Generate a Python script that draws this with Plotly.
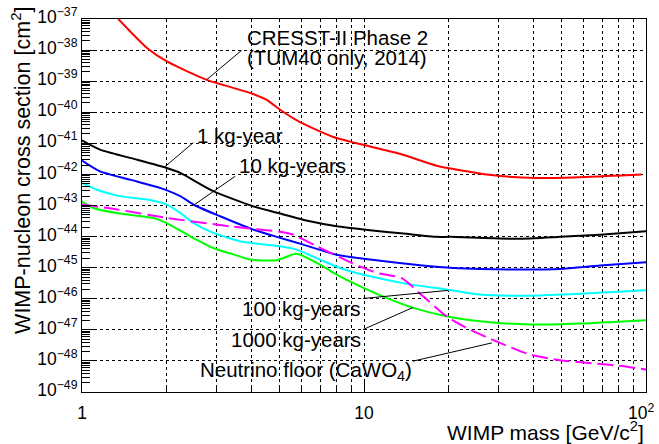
import numpy as np
import plotly.graph_objects as go

# ---------------- data ----------------
mass_cresst = [1.345, 1.70, 2.0, 2.77, 3.94, 4.52, 5.04, 5.93, 7.78, 9.42, 13.4, 18.1, 25.1, 31.2, 40.9, 61.6, 96.5]
sigma_cresst = [1e-37, 1.17e-38, 4.3e-39, 1.1e-39, 4.2e-40, 2.5e-40, 1.2e-40, 4.8e-41, 1.6e-41, 1.0e-41,
                4.6e-42, 1.9e-42, 1.12e-42, 8.7e-43, 7.7e-43, 8.3e-43, 9.9e-43]

mass_1kg = [1, 1.158, 1.48, 2.0, 2.23, 2.92, 4.05, 5.04, 6.43, 8.0, 10.5, 13.8, 18.1, 20.2, 34.8, 49.6, 68.7, 100]
sigma_1kg = [1.25e-41, 6.3e-42, 3.4e-42, 1.6e-42, 1.12e-42, 2.9e-43, 9.4e-44, 5.5e-44, 3.1e-44, 2.14e-44,
             1.6e-44, 1.25e-44, 9.8e-45, 9.8e-45, 8.5e-45, 9.8e-45, 1.15e-44, 1.48e-44]

mass_10kg = [1, 1.158, 1.48, 1.89, 2.23, 2.52, 3.09, 4.05, 5.04, 6.09, 8.0, 10.5, 15.8, 20.7, 34.8, 49.6, 68.7, 100]
sigma_10kg = [2.8e-42, 1.26e-42, 6.8e-43, 3.7e-43, 2.0e-43, 1.0e-43, 4.5e-44, 1.67e-44, 9.1e-45, 5.5e-45,
              2.6e-45, 1.82e-45, 1.2e-45, 9.8e-46, 8.7e-46, 9.1e-46, 1.17e-45, 1.48e-45]

mass_100kg = [1, 1.13, 1.36, 1.70, 2.0, 2.23, 2.48, 2.92, 3.63, 4.52, 5.04, 5.77, 6.98, 8.4, 10.5, 14.6,
              19.6, 25.8, 38.8, 58.3, 100]
sigma_100kg = [5.3e-43, 3.2e-43, 2.0e-43, 1.55e-43, 1.07e-43, 5.8e-44, 2.75e-44, 1.32e-44, 7.1e-45, 5.5e-45,
               4.9e-45, 3.8e-45, 1.82e-45, 9.1e-46, 5.3e-46, 2.9e-46, 2.0e-46, 1.36e-46, 1.26e-46, 1.44e-46, 1.87e-46]

mass_1000kg = [1, 1.097, 1.36, 1.70, 1.84, 2.05, 2.42, 2.92, 3.63, 3.94, 4.9, 5.77, 6.8, 8.0, 8.9, 9.95, 12.0,
               14.96, 19.6, 25.8, 38.8, 58.3, 76.6, 100]
sigma_1000kg = [1.37e-43, 8.3e-44, 5.5e-44, 4.3e-44, 3.7e-44, 2.4e-44, 1.02e-44, 4.3e-45, 2.3e-45, 1.82e-45,
                1.74e-45, 2.8e-45, 1.42e-45, 6.0e-46, 3.6e-46, 2.24e-46, 1.07e-46, 5.1e-47, 2.75e-47, 1.9e-47,
                1.48e-47, 1.59e-47, 1.8e-47, 2.04e-47]

mass_nu = [1, 1.29, 2.0, 3.35, 5.17, 5.62, 6.8, 9.04, 11.1, 13.6, 16.2, 19.6, 23.1, 29.9, 38.8, 49.6, 66.9, 78.7, 100]
sigma_nu = [1.07e-43, 7.8e-44, 4.0e-44, 2.14e-44, 1.38e-44, 1.15e-44, 4.9e-45, 1.42e-45, 6.8e-46, 4.6e-46,
            1.2e-46, 2.75e-47, 1.15e-47, 4.0e-48, 1.6e-48, 1.05e-48, 8.1e-49, 7.1e-49, 5.3e-49]

x_tickvals = [1, 10, 100]
x_ticktext = ["1", "10", "10<sup>2</sup>\u00a0\u00a0"]
y_exponents = list(range(-49, -36))
y_tickvals = [10.0 ** e for e in y_exponents]
y_ticktext = ["10<sup>\u2212%d</sup>" % abs(e) for e in y_exponents]

# label texts, anchor point of text (mass, sigma) and pointer line ends
labels = [
    dict(text="CRESST-II Phase 2", x=3.79, y=2.6e-38, xanchor="left"),
    dict(text="(TUM40 only, 2014)", x=3.79, y=5.6e-39, xanchor="left"),
    dict(text="1 kg-year", x=2.52, y=1.78e-41, xanchor="left"),
    dict(text="10 kg-years", x=3.54, y=2.0e-42, xanchor="left"),
    dict(text="100 kg-years", x=9.9, y=5.0e-47, xanchor="right"),
    dict(text="1000 kg-years", x=9.9, y=4.8e-48, xanchor="right"),
    dict(text="Neutrino floor (CaWO<sub>4</sub>)", x=15.1, y=4.7e-49, xanchor="right"),
]
pointers = [
    ([2.77, 3.68], [1.12e-39, 9.8e-39]),
    ([1.97, 2.48], [1.78e-42, 1.05e-41]),
    ([2.48, 3.49], [1.0e-43, 8.7e-43]),
    ([9.92, 19.9], [1.02e-46, 1.86e-46]),
    ([9.92, 14.9], [1.02e-47, 5.2e-47]),
    ([14.9, 28.4], [9.8e-49, 3.8e-48]),
]

# minor tick positions (2..9 of each decade)
x_minor = [k * 10.0 ** d for d in range(0, 2) for k in range(2, 10)]
y_minor = [k * 10.0 ** d for d in range(-49, -37) for k in range(2, 10)]

FONT = "Liberation Sans, Arial, Helvetica, sans-serif"

fig = go.Figure()

curves = [
    (mass_cresst, sigma_cresst, "#ff0000", "solid"),
    (mass_1kg, sigma_1kg, "#000000", "solid"),
    (mass_10kg, sigma_10kg, "#0000ff", "solid"),
    (mass_100kg, sigma_100kg, "#00ffff", "solid"),
    (mass_1000kg, sigma_1000kg, "#00ff00", "solid"),
    (mass_nu, sigma_nu, "#ff00ff", "16px,6px"),
]
for mx, sy, col, dash in curves:
    fig.add_trace(go.Scatter(x=mx, y=sy, mode="lines", line=dict(color=col, width=2, dash=dash),
                             line_shape="spline", line_smoothing=0.6, showlegend=False, hoverinfo="skip"))

for px, py in pointers:
    fig.add_trace(go.Scatter(x=px, y=py, mode="lines", line=dict(color="black", width=1),
                             showlegend=False, hoverinfo="skip"))

for lab in labels:
    fig.add_annotation(text=lab["text"], x=np.log10(lab["x"]), y=np.log10(lab["y"]), xref="x", yref="y",
                       xanchor=lab["xanchor"], yanchor="middle", showarrow=False,
                       font=dict(family=FONT, size=20.5, color="black"))

# axis titles (ROOT-style, aligned to the axis ends)
fig.add_annotation(text="WIMP mass [GeV/c<sup>2</sup>]", xref="paper", yref="paper", x=1.0, y=-0.105,
                   xanchor="right", yanchor="middle", showarrow=False,
                   font=dict(family=FONT, size=21, color="black"))
fig.add_annotation(text="WIMP-nucleon cross section [cm<sup>2</sup>]", xref="paper", yref="paper",
                   x=-0.108, y=0.593, xanchor="center", yanchor="middle", textangle=-90, showarrow=False,
                   font=dict(family=FONT, size=21.5, color="black"))

fig.update_xaxes(type="log", range=[0, 2], tickmode="array", tickvals=x_tickvals, ticktext=x_ticktext,
                 ticks="inside", ticklen=12, tickwidth=1, tickcolor="black", ticklabelstandoff=5,
                 ticklabeloverflow="allow", automargin=False,
                 showline=True, linecolor="black", linewidth=1, mirror=True,
                 showgrid=True, gridcolor="black", griddash="dot", gridwidth=1,
                 minor=dict(tickmode="array", tickvals=x_minor, ticks="inside", ticklen=6, tickcolor="black",
                            showgrid=True, gridcolor="black", griddash="dot", gridwidth=1),
                 tickfont=dict(family=FONT, size=17.5, color="black"), zeroline=False)
fig.update_yaxes(type="log", range=[-49, -37], tickmode="array", tickvals=y_tickvals, ticktext=y_ticktext,
                 ticks="inside", ticklen=15, tickwidth=1, tickcolor="black", ticklabelshift=-2,
                 ticklabeloverflow="allow", automargin=False,
                 showline=True, linecolor="black", linewidth=1, mirror=True,
                 showgrid=True, gridcolor="black", griddash="dot", gridwidth=1,
                 minor=dict(tickmode="array", tickvals=y_minor, ticks="inside", ticklen=8, tickcolor="black",
                            showgrid=False),
                 tickfont=dict(family=FONT, size=17.5, color="black"), zeroline=False)

fig.update_layout(width=659, height=444, margin=dict(l=82, r=13, t=19, b=52, autoexpand=False),
                  paper_bgcolor="white", plot_bgcolor="white", showlegend=False,
                  font=dict(family=FONT, color="black"))

fig.write_html("out.html", config={"displayModeBar": False},
               post_script="document.body.style.margin='0';document.body.style.padding='0';")
